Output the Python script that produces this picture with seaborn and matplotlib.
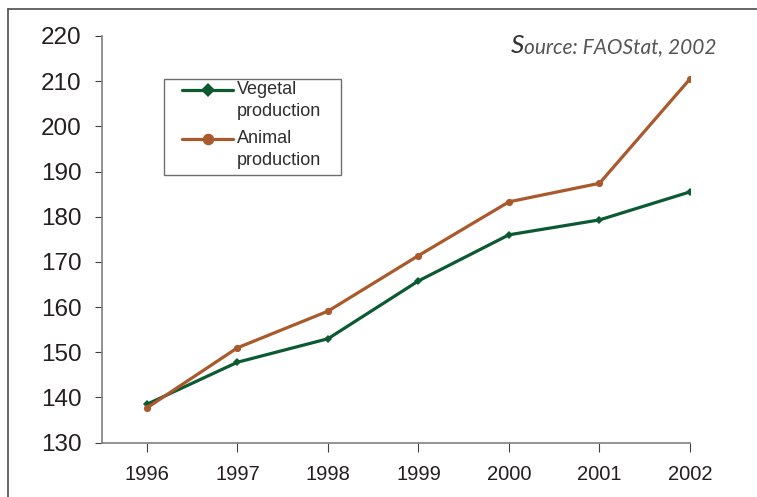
import matplotlib
matplotlib.use("Agg")
import numpy as np
import matplotlib.pyplot as plt
from matplotlib.lines import Line2D
from matplotlib.patches import Rectangle
from matplotlib.legend_handler import HandlerLine2D
import pandas as pd
import seaborn as sns

# Production index values, 1996-2002
years = [1996, 1997, 1998, 1999, 2000, 2001, 2002]
vegetal = [138.5, 147.8, 153.0, 165.8, 176.0, 179.3, 185.5]
animal = [137.7, 151.0, 159.1, 171.4, 183.3, 187.4, 210.5]
series_labels = ["Vegetal\nproduction", "Animal\nproduction"]
y_ticks = [130, 140, 150, 160, 170, 180, 190, 200, 210, 220]
source_note = "Source: FAOStat, 2002"

GREEN = "#0b5a32"
BROWN = "#a9592b"
INK = "#231f20"

sns.set_theme(style="white")
plt.rcParams["font.family"] = ["Liberation Sans", "DejaVu Sans"]


class FirstLineHandler(HandlerLine2D):
    """Line handler that lifts the key up to the first line of a two-line label."""

    def __init__(self, lift=0.0, **kw):
        super().__init__(**kw)
        self.lift = lift

    def create_artists(self, legend, orig_handle, xdescent, ydescent,
                       width, height, fontsize, trans):
        arts = super().create_artists(legend, orig_handle, xdescent, ydescent,
                                      width, height, fontsize, trans)
        for a in arts:
            a.set_ydata(np.asarray(a.get_ydata(), dtype=float) + self.lift * fontsize)
        return arts


df = pd.DataFrame({"year": years, "vegetal": vegetal, "animal": animal})

fig = plt.figure(figsize=(7.57, 4.97), dpi=100)
ax = fig.add_axes([0.1343, 0.1093, 0.9115 - 0.1343, 0.9276 - 0.1093])

sns.lineplot(data=df, x="year", y="vegetal", ax=ax, color=GREEN, lw=2.3,
             marker="D", markersize=4.2, markeredgewidth=0,
             label=series_labels[0])
sns.lineplot(data=df, x="year", y="animal", ax=ax, color=BROWN, lw=2.3,
             marker="o", markersize=5.2, markeredgewidth=0,
             label=series_labels[1])

ax.set_xlim(1995.5, 2002)
ax.set_ylim(130, 220)
ax.set_xticks(years)
ax.set_xticklabels([str(y) for y in years])
ax.set_yticks(y_ticks)
ax.set_xlabel("")
ax.set_ylabel("")

for side in ("top", "right"):
    ax.spines[side].set_visible(False)
for side in ("left", "bottom"):
    ax.spines[side].set_color("#808080")
    ax.spines[side].set_linewidth(1.2)

ax.tick_params(axis="y", which="major", direction="out", length=5, width=0.8,
               color="#404040", labelsize=17.5, labelcolor=INK, pad=9.5, left=True)
ax.tick_params(axis="x", which="major", direction="out", length=6.5, width=0.8,
               color="#404040", labelsize=14.5, labelcolor=INK, pad=9.5, bottom=True)

# Legend: keys sit beside the first line of each label, inside a plain box
handles, labels = ax.get_legend_handles_labels()
leg = ax.legend(handles, labels, loc="upper left",
                bbox_to_anchor=(182 / 757, 1 - 80.5 / 497),
                bbox_transform=fig.transFigure, borderaxespad=0, borderpad=0,
                fontsize=13, handlelength=2.85, handletextpad=0.2,
                labelspacing=0.55, markerscale=1.6, frameon=False,
                handler_map={h: FirstLineHandler(lift=0.58) for h in handles})
for t in leg.get_texts():
    t.set_color("#2e2e2e")
    t.set_linespacing(1.4)
fig.add_artist(Rectangle((164 / 757, 1 - 175 / 497), (341 - 164) / 757, (175 - 79) / 497,
                         transform=fig.transFigure, fill=False,
                         edgecolor="#6e6e6e", lw=1.0))

# Source note, with an enlarged initial capital
rest = fig.text(717 / 757, 1 - 53 / 497, source_note[1:], ha="right", va="baseline",
                fontsize=15, style="italic", color="#555557",
                family=["Lato", "DejaVu Sans"])
fig.canvas.draw()
bb = rest.get_window_extent(fig.canvas.get_renderer())
fig.text(bb.x0 / fig.bbox.width, 1 - 53 / 497, source_note[0], ha="right",
         va="baseline", fontsize=19, style="italic", color="#333335",
         family=["Lato", "DejaVu Sans"])

# Page frame on the top and left edges
fig.add_artist(Line2D([8 / 757, 8 / 757], [0, 1 - 8.5 / 497],
                      transform=fig.transFigure, color="#4d4d4d", lw=1.2))
fig.add_artist(Line2D([8 / 757, 1], [1 - 8.5 / 497, 1 - 8.5 / 497],
                      transform=fig.transFigure, color="#4d4d4d", lw=1.2))

fig.savefig("out.png", dpi=100)
